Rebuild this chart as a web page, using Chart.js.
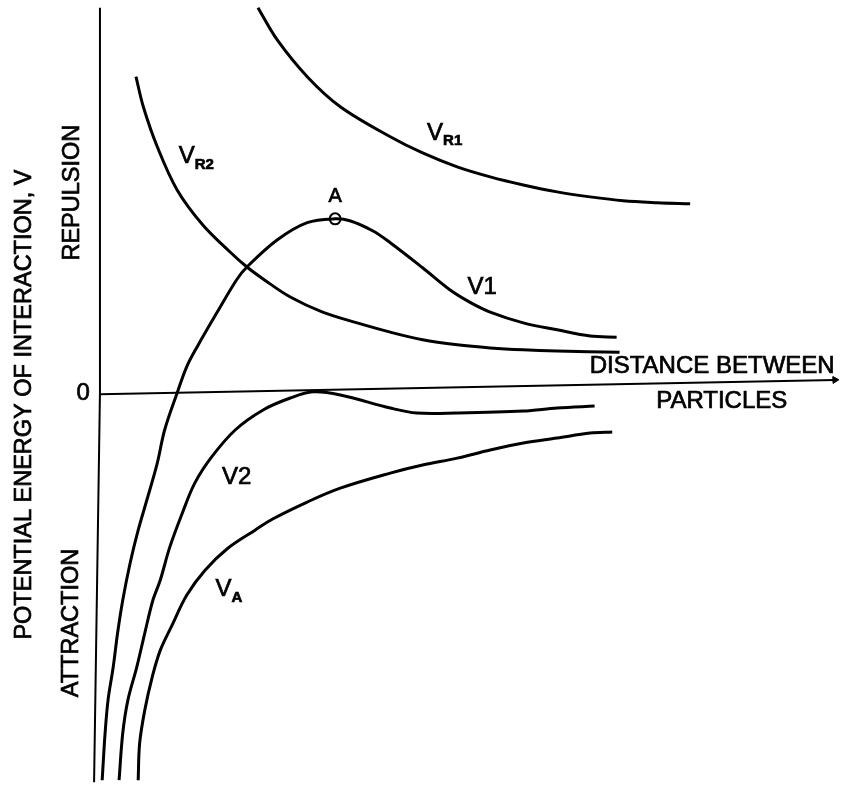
<!DOCTYPE html>
<html lang="en">
<head>
    <meta charset="UTF-8">
    <title>Potential Energy of Interaction</title>
    <script src="https://cdn.jsdelivr.net/npm/chart.js"></script>
    <style>
        body { margin: 0; background: #fff; }
    </style>
</head>
<body>
    <canvas id="energyChart" width="843" height="786"></canvas>
    <script>
        // Curves: x = distance between particles, y = potential energy (arbitrary units)
        const vr1X = [2.15, 2.41, 2.82, 3.27, 3.95, 4.39, 4.86, 5.31, 5.76, 6.22, 6.67, 7.12, 7.58, 8.03];
        const vr1Y = [10.0, 9.17, 8.21, 7.43, 6.65, 6.23, 5.87, 5.61, 5.40, 5.22, 5.09, 4.99, 4.94, 4.91];

        const vr2X = [0.49, 0.59, 0.78, 1.05, 1.40, 1.77, 2.00, 2.22, 2.59, 3.03, 3.50, 3.95, 4.39, 4.86, 5.31, 5.76, 6.22, 7.07];
        const vr2Y = [8.21, 7.43, 6.39, 5.27, 4.36, 3.66, 3.27, 2.96, 2.49, 2.10, 1.82, 1.58, 1.38, 1.25, 1.17, 1.12, 1.09, 1.06];

        const v1X = [0.03, 0.07, 0.11, 0.18, 0.24, 0.31, 0.41, 0.52, 0.65, 0.78, 0.88, 1.05, 1.18, 1.32, 1.59, 1.86, 2.00, 2.41, 2.82, 3.20, 3.40, 3.71, 3.95, 4.39, 4.76, 5.03, 5.31, 5.76, 6.22, 6.67, 7.03];
        const v1Y = [-10.05, -8.83, -7.97, -7.12, -6.23, -5.38, -4.42, -3.56, -2.70, -1.82, -0.96, 0, 0.68, 1.19, 2.08, 2.94, 3.27, 3.97, 4.42, 4.52, 4.47, 4.21, 3.90, 3.25, 2.68, 2.36, 2.10, 1.82, 1.64, 1.48, 1.45];

        const v2X = [0.26, 0.31, 0.38, 0.50, 0.61, 0.72, 0.82, 0.95, 1.12, 1.29, 1.52, 1.84, 2.22, 2.59, 2.90, 3.27, 3.95, 4.31, 4.86, 5.76, 6.22, 6.73];
        const v2Y = [-10.05, -8.83, -7.97, -7.12, -6.23, -5.38, -4.86, -4.00, -3.12, -2.34, -1.66, -0.96, -0.44, -0.13, 0.03, -0.05, -0.39, -0.52, -0.52, -0.47, -0.39, -0.34];

        const vaX = [0.52, 0.54, 0.61, 0.71, 0.82, 0.98, 1.18, 1.43, 1.74, 2.11, 2.35, 2.82, 3.27, 3.95, 4.39, 4.86, 5.31, 5.76, 6.22, 6.67, 6.97];
        const vaY = [-10.05, -9.09, -8.23, -7.38, -6.68, -6.03, -5.25, -4.60, -4.03, -3.56, -3.27, -2.83, -2.47, -2.08, -1.87, -1.69, -1.48, -1.30, -1.17, -1.04, -1.01];

        // axes of the sketch (slightly tilted, as drawn)
        const yAxisX = [0, 0, -0.08];
        const yAxisY = [10.0, 0, -10.1];
        const xAxisX = [0, 10.0];
        const xAxisY = [-0.03, 0.34];

        // energy barrier point A on V1
        const peakA = [{ x: 3.20, y: 4.52 }];

        // text labels: [text, subscript, x, y]
        const curveLabels = [
            ['A', '', 3.20, 5.09],
            ['V', 'R1', 4.56, 6.75],
            ['V', 'R2', 1.18, 6.13],
            ['V1', '', 5.20, 2.75],
            ['V2', '', 1.86, -2.18],
            ['V', 'A', 1.68, -5.10],
            ['0', '', -0.23, 0],
            ['DISTANCE BETWEEN', '', 8.33, 0.68],
            ['PARTICLES', '', 8.46, -0.23]
        ];
        const sideLabels = [
            ['POTENTIAL ENERGY OF INTERACTION, V', -1.02, -0.30],
            ['REPULSION', -0.37, 5.20],
            ['ATTRACTION', -0.39, -5.97]
        ];

        function toPoints(xs, ys) {
            return xs.map((x, i) => ({ x: x, y: ys[i] }));
        }

        function curve(label, xs, ys) {
            return {
                label: label,
                data: toPoints(xs, ys),
                showLine: true,
                borderColor: '#000',
                borderWidth: 3,
                pointRadius: 0,
                tension: 0.35
            };
        }

        function axisLine(label, xs, ys) {
            return {
                label: label,
                data: toPoints(xs, ys),
                showLine: true,
                borderColor: '#000',
                borderWidth: 2,
                pointRadius: 0,
                tension: 0
            };
        }

        function drawText(ctx, text, x, y) {
            ctx.strokeText(text, x, y);
            ctx.fillText(text, x, y);
        }

        const labelPlugin = {
            id: 'sketchLabels',
            afterDatasetsDraw(chart) {
                const ctx = chart.ctx;
                const xs = chart.scales.x;
                const ys = chart.scales.y;
                const font = '"Liberation Sans", Arial, sans-serif';
                ctx.save();
                ctx.fillStyle = '#000';
                ctx.strokeStyle = '#000';
                ctx.lineWidth = 0.7;
                ctx.textBaseline = 'middle';
                curveLabels.forEach(l => {
                    const px = xs.getPixelForValue(l[2]);
                    const py = ys.getPixelForValue(l[3]);
                    ctx.font = (l[0] === 'A' ? '20px ' : '24px ') + font;
                    const w = ctx.measureText(l[0]).width;
                    ctx.textAlign = 'center';
                    drawText(ctx, l[0], px, py);
                    if (l[1]) {
                        ctx.font = 'bold 15px ' + font;
                        ctx.textAlign = 'left';
                        drawText(ctx, l[1], px + w / 2, py + 8);
                    }
                });
                ctx.font = '23.5px ' + font;
                ctx.textAlign = 'center';
                sideLabels.forEach(l => {
                    ctx.save();
                    ctx.translate(xs.getPixelForValue(l[1]), ys.getPixelForValue(l[2]));
                    ctx.rotate(-Math.PI / 2);
                    drawText(ctx, l[0], 0, 0);
                    ctx.restore();
                });
                ctx.restore();
            }
        };

        const ctx = document.getElementById('energyChart').getContext('2d');
        new Chart(ctx, {
            type: 'scatter',
            data: {
                datasets: [
                    axisLine('vertical axis', yAxisX, yAxisY),
                    axisLine('horizontal axis', xAxisX, xAxisY),
                    {
                        label: 'arrow',
                        data: [{ x: xAxisX[1], y: xAxisY[1] }],
                        pointStyle: 'triangle',
                        rotation: 88,
                        pointRadius: 4,
                        backgroundColor: '#000',
                        borderColor: '#000'
                    },
                    curve('VR1', vr1X, vr1Y),
                    curve('VR2', vr2X, vr2Y),
                    curve('V1', v1X, v1Y),
                    curve('V2', v2X, v2Y),
                    curve('VA', vaX, vaY),
                    {
                        label: 'A',
                        data: peakA,
                        pointStyle: 'circle',
                        pointRadius: 5.5,
                        borderWidth: 2,
                        borderColor: '#000',
                        backgroundColor: 'rgba(0,0,0,0)'
                    }
                ]
            },
            options: {
                responsive: false,
                animation: false,
                layout: { padding: 0, autoPadding: false },
                plugins: {
                    legend: { display: false },
                    tooltip: { enabled: false }
                },
                scales: {
                    x: { type: 'linear', min: -1.36, max: 10.11, display: false },
                    y: { type: 'linear', min: -10.2, max: 10.2, display: false }
                }
            },
            plugins: [labelPlugin]
        });
    </script>
</body>
</html>
